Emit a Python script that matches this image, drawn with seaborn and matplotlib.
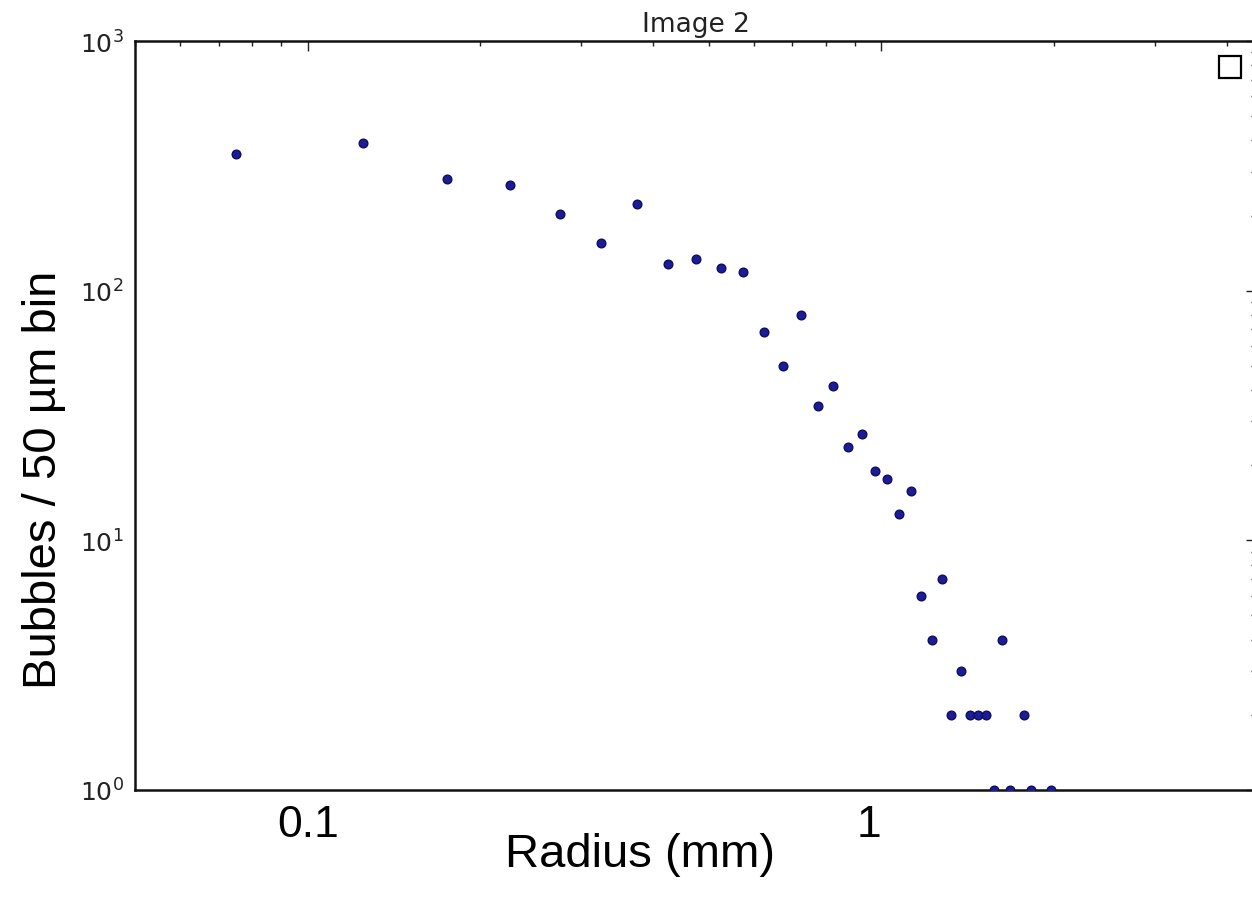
import matplotlib
matplotlib.use("Agg")
import matplotlib.pyplot as plt
import matplotlib.ticker as mticker
import seaborn as sns
import pandas as pd

# ---- data ----
radius_mm = [0.075, 0.125, 0.175, 0.225, 0.275, 0.325, 0.375, 0.425, 0.475, 0.525,
             0.575, 0.625, 0.675, 0.725, 0.775, 0.825, 0.875, 0.925, 0.975, 1.025,
             1.075, 1.125, 1.175, 1.225, 1.275, 1.325, 1.375, 1.425, 1.475, 1.525,
             1.575, 1.625, 1.675, 1.775, 1.825, 1.975]
bubbles = [352, 390, 280, 265, 203, 155, 222, 128, 134, 123,
           119, 68, 50, 80, 34.5, 41.5, 23.6, 26.7, 19, 17.6,
           12.7, 15.8, 6, 4, 7, 2, 3, 2, 2, 2,
           1, 4, 1, 2, 1, 1]
x_tick_values = [0.1, 1]
x_tick_labels = ["0.1", "1"]
title_text = "Image 2"
x_label = "Radius (mm)"
y_label = "Bubbles / 50 \u00b5m bin"

df = pd.DataFrame({"radius": radius_mm, "count": bubbles})

sns.set_theme(style="white")
plt.rcParams["font.family"] = ["DejaVu Sans"]
plt.rcParams["axes.unicode_minus"] = False

W, H = 1252, 903
fig = plt.figure(figsize=(W / 100, H / 100), dpi=100)
left, right, top, bottom = 135, 1256, 42, 791
ax = fig.add_axes([left / W, 1 - bottom / H, (right - left) / W, (bottom - top) / H])

sns.scatterplot(data=df, x="radius", y="count", ax=ax, marker="o", s=40,
                color="#1c1c96", edgecolor="#0a0a5c", linewidth=0.9, zorder=3)

ax.set_xscale("log")
ax.set_yscale("log")
ax.set_xlim(0.05, 4.5)
ax.set_ylim(1, 1000)

for sp in ax.spines.values():
    sp.set_visible(True)
    sp.set_color("#111111")
    sp.set_linewidth(1.8)

ax.xaxis.set_major_locator(mticker.FixedLocator(x_tick_values))
ax.xaxis.set_minor_locator(mticker.LogLocator(base=10, subs=range(2, 10), numticks=20))
ax.set_xticklabels(x_tick_labels, fontfamily="Liberation Sans", fontsize=32, color="black")
xl = ax.get_xticklabels()
xl[1].set_horizontalalignment("right")

ax.yaxis.set_major_locator(mticker.LogLocator(base=10, numticks=10))
ax.yaxis.set_minor_locator(mticker.LogLocator(base=10, subs=range(2, 10), numticks=20))
ax.yaxis.set_minor_formatter(mticker.NullFormatter())
ax.xaxis.set_minor_formatter(mticker.NullFormatter())

ax.tick_params(which="both", direction="in", top=True, right=True, color="#222222", width=1.0)
ax.tick_params(which="major", length=7)
ax.tick_params(which="minor", length=3.6)
ax.tick_params(axis="x", which="major", pad=10)
ax.tick_params(axis="y", which="major", pad=8, labelsize=18, labelcolor="#222222")

ax.set_title(title_text, fontsize=19, color="#222222", pad=7)

ax.set_xlabel(x_label, fontfamily="Liberation Sans", fontsize=34, color="black")
ax.xaxis.set_label_coords((640 - left) / (right - left), (bottom - 833) / (bottom - top))
ax.set_ylabel(y_label, fontfamily="Liberation Sans", fontsize=34, color="black")
ax.yaxis.set_label_coords((66 - left) / (right - left), (bottom - 480) / (bottom - top))

leg = ax.legend(handles=[], loc="upper right", frameon=True, fancybox=False,
                borderaxespad=0.9, borderpad=0.65, fontsize=12)
leg.get_frame().set_edgecolor("black")
leg.get_frame().set_linewidth(1.6)
leg.get_frame().set_alpha(1)

fig.savefig("out.png", dpi=100)
